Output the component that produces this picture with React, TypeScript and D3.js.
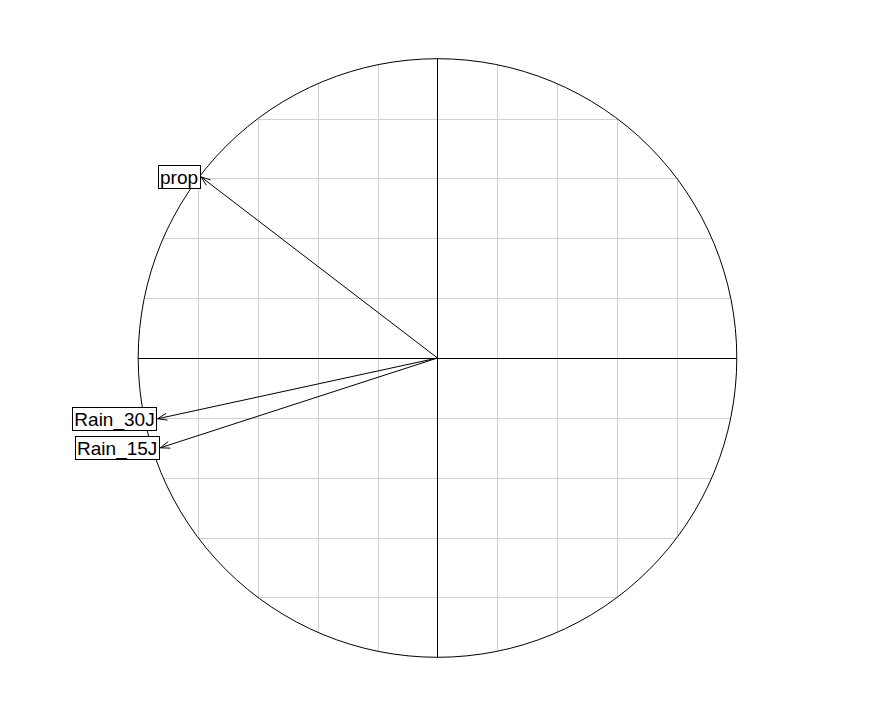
import React, { useEffect, useRef } from "react";
import * as d3 from "d3";

const varNames = ["prop", "Rain_30J", "Rain_15J"];
const xValues = [-0.79, -0.935, -0.926];
const yValues = [0.605, -0.203, -0.3];
const gridTicks = [-0.8, -0.6, -0.4, -0.2, 0.2, 0.4, 0.6, 0.8];

const W = 876;
const H = 717;
const CX = 437.5;
const CY = 358;
const R = 299.3;

export default function App() {
  const ref = useRef<SVGSVGElement | null>(null);

  useEffect(() => {
    const svg = d3.select(ref.current);
    svg.selectAll("*").remove();
    const x = d3.scaleLinear().domain([-1, 1]).range([CX - R, CX + R]);
    const y = d3.scaleLinear().domain([-1, 1]).range([CY + R, CY - R]);

    svg.append("rect").attr("width", W).attr("height", H).attr("fill", "white");

    const grid = svg.append("g").attr("stroke", "#d0d0d0").attr("stroke-width", 1);
    gridTicks.forEach((t) => {
      const h = Math.sqrt(1 - t * t);
      grid.append("line")
        .attr("x1", Math.round(x(t)) + 0.5).attr("x2", Math.round(x(t)) + 0.5)
        .attr("y1", y(h)).attr("y2", y(-h));
      grid.append("line")
        .attr("y1", Math.round(y(t)) + 0.5).attr("y2", Math.round(y(t)) + 0.5)
        .attr("x1", x(-h)).attr("x2", x(h));
    });

    svg.append("circle")
      .attr("cx", x(0)).attr("cy", y(0)).attr("r", R)
      .attr("fill", "none").attr("stroke", "black").attr("stroke-width", 1);

    svg.append("line")
      .attr("x1", x(-1)).attr("x2", x(1))
      .attr("y1", Math.round(y(0)) + 0.5).attr("y2", Math.round(y(0)) + 0.5)
      .attr("stroke", "black");
    svg.append("line")
      .attr("y1", y(1)).attr("y2", y(-1))
      .attr("x1", Math.round(x(0)) - 0.5).attr("x2", Math.round(x(0)) - 0.5)
      .attr("stroke", "black");

    const arrows = svg.append("g").attr("stroke", "black").attr("stroke-width", 1).attr("fill", "none");
    varNames.forEach((name, i) => {
      const x0 = x(0), y0 = y(0);
      const x1 = x(xValues[i]), y1 = y(yValues[i]);
      arrows.append("line").attr("x1", x0).attr("y1", y0).attr("x2", x1).attr("y2", y1);
      const ang = Math.atan2(y1 - y0, x1 - x0);
      const len = 10;
      const spread = Math.PI / 9;
      const p = d3.path();
      p.moveTo(x1 - len * Math.cos(ang - spread), y1 - len * Math.sin(ang - spread));
      p.lineTo(x1, y1);
      p.lineTo(x1 - len * Math.cos(ang + spread), y1 - len * Math.sin(ang + spread));
      arrows.append("path").attr("d", p.toString());
    });

    const labels = svg.append("g");
    varNames.forEach((name, i) => {
      const x1 = x(xValues[i]), y1 = y(yValues[i]);
      const g = labels.append("g");
      const rect = g.append("rect").attr("fill", "white").attr("stroke", "black").attr("stroke-width", 1);
      const text = g.append("text")
        .attr("x", x1 - 3)
        .attr("y", y1 + 7)
        .attr("text-anchor", "end")
        .attr("font-family", "'Liberation Sans', Arial, sans-serif")
        .attr("font-size", 19)
        .attr("fill", "black")
        .text(name);
      const bb = (text.node() as SVGTextElement).getBBox();
      rect.attr("x", Math.round(bb.x - 2) + 0.5)
        .attr("y", Math.round(y1 - 11.5) + 0.5)
        .attr("width", Math.round(bb.width + 4))
        .attr("height", 23);
    });
  }, []);

  return (
    <svg
      ref={ref}
      width={W}
      height={H}
      style={{ position: "absolute", left: 0, top: 0, display: "block" }}
    />
  );
}
